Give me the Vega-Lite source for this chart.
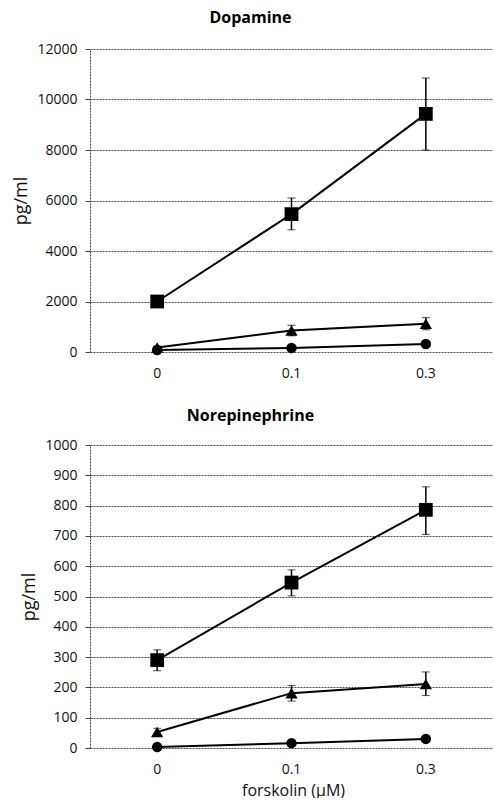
{
  "$schema": "https://vega.github.io/schema/vega-lite/v6.json",
  "background": "white",
  "padding": {"left": 12, "top": 10, "right": 0, "bottom": 0},
  "datasets": {
    "dopa": [
      {"series": "A", "x": "0", "y": 2000, "lo": 1880, "hi": 2150},
      {"series": "A", "x": "0.1", "y": 5460, "lo": 4840, "hi": 6100},
      {"series": "A", "x": "0.3", "y": 9430, "lo": 8000, "hi": 10850},
      {"series": "B", "x": "0", "y": 180, "lo": 130, "hi": 230},
      {"series": "B", "x": "0.1", "y": 850, "lo": 640, "hi": 1060},
      {"series": "B", "x": "0.3", "y": 1120, "lo": 880, "hi": 1360},
      {"series": "C", "x": "0", "y": 80, "lo": 60, "hi": 100},
      {"series": "C", "x": "0.1", "y": 160, "lo": 140, "hi": 180},
      {"series": "C", "x": "0.3", "y": 320, "lo": 300, "hi": 340}
    ],
    "norepi": [
      {"series": "A", "x": "0", "y": 290, "lo": 255, "hi": 324},
      {"series": "A", "x": "0.1", "y": 546, "lo": 502, "hi": 588},
      {"series": "A", "x": "0.3", "y": 786, "lo": 705, "hi": 862},
      {"series": "B", "x": "0", "y": 53, "lo": 42, "hi": 65},
      {"series": "B", "x": "0.1", "y": 181, "lo": 155, "hi": 206},
      {"series": "B", "x": "0.3", "y": 211, "lo": 173, "hi": 251},
      {"series": "C", "x": "0", "y": 3, "lo": 1, "hi": 5},
      {"series": "C", "x": "0.1", "y": 16, "lo": 14, "hi": 18},
      {"series": "C", "x": "0.3", "y": 30, "lo": 28, "hi": 32}
    ]
  },
  "spacing": 28,
  "vconcat": [
    {
      "title": {"text": "Dopamine", "dx": -41, "offset": 16},
      "width": 403,
      "height": 303,
      "data": {"name": "dopa"},
      "encoding": {
        "x": {"field": "x", "type": "ordinal", "sort": ["0", "0.1", "0.3"],
              "scale": {"paddingInner": 0, "paddingOuter": 0},
              "axis": {"title": null, "labelAngle": 0}},
        "y": {"field": "y", "type": "quantitative",
              "scale": {"domain": [0, 12000], "nice": false},
              "axis": {"title": "pg/ml", "values": [0, 2000, 4000, 6000, 8000, 10000, 12000], "format": "d"}}
      },
      "layer": [
        {"mark": {"type": "line", "color": "black", "strokeWidth": 2}, "encoding": {"detail": {"field": "series"}}},
        {"mark": {"type": "errorbar", "ticks": {"size": 8, "color": "black", "strokeWidth": 2}, "color": "black", "rule": {"strokeWidth": 1.5}},
         "encoding": {"y": {"field": "lo", "type": "quantitative"}, "y2": {"field": "hi"}, "detail": {"field": "series"}}},
        {"mark": {"type": "point", "filled": true, "color": "black", "opacity": 1},
         "encoding": {
           "shape": {"field": "series", "type": "nominal", "scale": {"domain": ["A", "B", "C"], "range": ["square", "triangle-up", "circle"]}, "legend": null},
           "size": {"field": "series", "type": "nominal", "scale": {"domain": ["A", "B", "C"], "range": [190, 110, 120]}, "legend": null}
         }}
      ]
    },
    {
      "title": {"text": "Norepinephrine", "dx": -41, "offset": 14},
      "width": 403,
      "height": 303,
      "data": {"name": "norepi"},
      "encoding": {
        "x": {"field": "x", "type": "ordinal", "sort": ["0", "0.1", "0.3"],
              "scale": {"paddingInner": 0, "paddingOuter": 0},
              "axis": {"title": "forskolin (μM)", "labelAngle": 0, "labelPadding": 14, "titleFontWeight": "normal", "titleFontSize": 16, "titlePadding": 6, "titleX": 203, "titleAlign": "center"}},
        "y": {"field": "y", "type": "quantitative",
              "scale": {"domain": [0, 1000], "nice": false},
              "axis": {"title": "pg/ml", "values": [0, 100, 200, 300, 400, 500, 600, 700, 800, 900, 1000], "format": "d"}}
      },
      "layer": [
        {"mark": {"type": "line", "color": "black", "strokeWidth": 2}, "encoding": {"detail": {"field": "series"}}},
        {"mark": {"type": "errorbar", "ticks": {"size": 8, "color": "black", "strokeWidth": 2}, "color": "black", "rule": {"strokeWidth": 1.5}},
         "encoding": {"y": {"field": "lo", "type": "quantitative"}, "y2": {"field": "hi"}, "detail": {"field": "series"}}},
        {"mark": {"type": "point", "filled": true, "color": "black", "opacity": 1},
         "encoding": {
           "shape": {"field": "series", "type": "nominal", "scale": {"domain": ["A", "B", "C"], "range": ["square", "triangle-up", "circle"]}, "legend": null},
           "size": {"field": "series", "type": "nominal", "scale": {"domain": ["A", "B", "C"], "range": [190, 110, 120]}, "legend": null}
         }}
      ]
    }
  ],
  "config": {
    "font": "Open Sans",
    "view": {"stroke": null},
    "title": {"font": "Open Sans", "fontSize": 16, "fontWeight": "bold", "color": "black", "anchor": "middle"},
    "axis": {"labelFont": "Open Sans", "labelFontSize": 14, "labelColor": "#111", "titleFont": "Open Sans", "titleColor": "#111", "titleFontSize": 18, "titleFontWeight": "normal"},
    "axisY": {"grid": true, "gridColor": "#444", "gridDash": [2, 1], "gridWidth": 1, "domainColor": "#444", "domainDash": [2, 1], "tickColor": "#444", "tickSize": 5, "labelPadding": 8, "titlePadding": 6},
    "axisX": {"grid": false, "domain": false, "ticks": false, "labelPadding": 14}
  }
}
